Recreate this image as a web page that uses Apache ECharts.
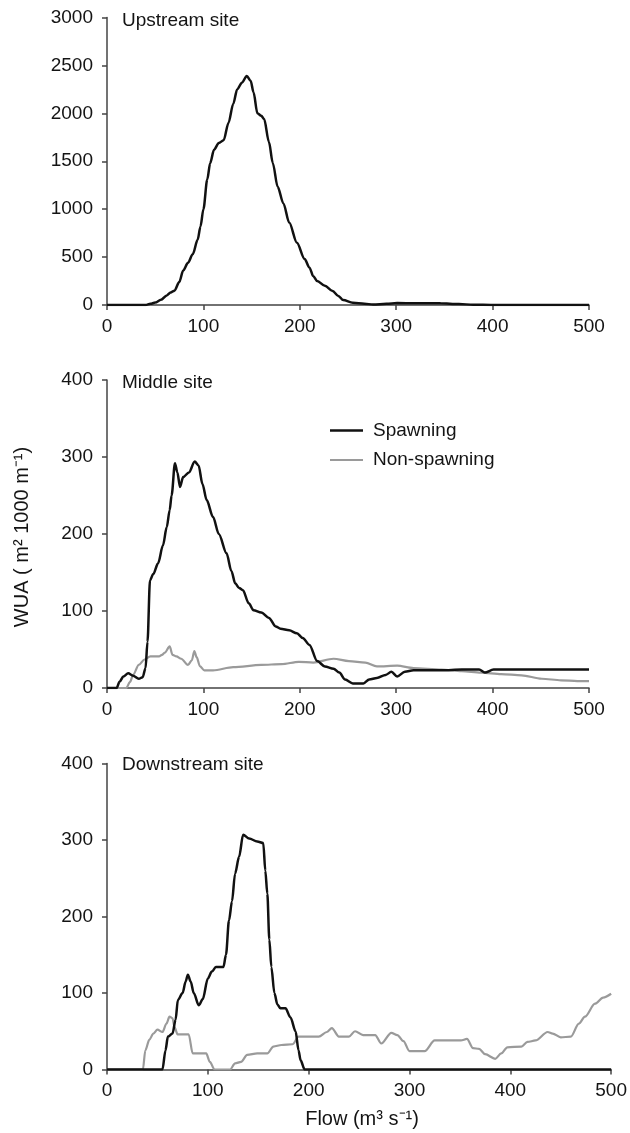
<!DOCTYPE html>
<html>
<head>
<meta charset="utf-8">
<script src="https://cdn.jsdelivr.net/npm/echarts@6/dist/echarts.min.js"></script>
<style>
  html, body { margin: 0; padding: 0; background: #fff; }
  #chart { width: 630px; height: 1133px; }
</style>
</head>
<body>
<div id="chart"></div>
<script>
// flow (m3/s) vs WUA
var upstreamSpawning = [
  [0,0],[40,0],[45,12],[50,25],[56,55],[62,100],[66,130],[70,150],[75,240],[79,360],
  [84,440],[89,530],[94,680],[97,820],[100,1000],[104,1310],[107,1480],[111,1620],
  [116,1690],[121,1720],[126,1900],[131,2100],[135,2250],[140,2320],[145,2390],
  [149,2340],[152,2220],[156,2000],[160,1975],[163,1940],[168,1700],[172,1480],
  [177,1235],[183,1060],[189,860],[197,650],[205,480],[210,390],[214,300],[218,250],
  [226,200],[234,146],[240,95],[245,52],[255,24],[267,14],[276,4],[290,12],[301,20],
  [320,18],[346,17],[365,10],[380,3],[400,0],[500,0]
];
var middleSpawning = [
  [0,0],[10,0],[13,8],[17,15],[22,19],[27,16],[33,12],[37,14],[40,26],[42,60],
  [44.6,140],[48,148],[53,162],[58,185],[62,209],[65,231],[67,250],[70.5,292],
  [73,280],[75.7,261],[79,274],[85,280],[91,294],[95,289],[99,265],[103.4,244],
  [110,222],[116,200],[124,175],[129,152],[133,136],[137,130],[141,127],[147,110],
  [152,101],[160,98],[168,91],[175,80],[180,77],[189,75],[197,71],[203,65],[210,56],
  [218,35],[226,28],[235,25],[241,20],[247,11],[255,6],[266,6],[272,11],[280,13],
  [289,17],[295,21],[301,15],[309,21],[318,23],[347,23],[368,24],[386,24],[392,20],
  [401,24],[450,24],[500,24]
];
var middleNonSpawning = [
  [0,0],[20,0],[24,8],[27,17],[33,30],[39,37],[45,41],[54,41],[57,43],[60,46],
  [65,54],[68,43],[72,41],[77,38],[84,30],[88,36],[90.6,48],[93,40],[96.5,28],
  [101,23],[110,23],[131,27],[160,30],[181,31],[199,34],[214,33],[235,38],[251,35],
  [268,33],[280,28],[301,29],[318,26],[347,24],[368,22],[388,20],[409,18],[430,16.5],
  [451,12],[471,10],[488,9],[500,9]
];
var downstreamSpawning = [
  [0,0],[55,0],[58,25],[60.4,43],[65,47],[68,65],[70.3,91],[75,100],[78,115],[80.2,124],
  [83,115],[86,100],[91,84],[95,92],[100,119],[104,128],[108,134],[115.5,134],[118,150],
  [121,195],[124,220],[127,256],[131,278],[135,307],[141,302],[149,298],[155,296],
  [157,260],[159,230],[161,170],[163,134],[166,100],[169,85],[172,80],[177,80],[182,68],
  [187,50],[190,25],[192,12],[196,0],[500,0]
];
var downstreamNonSpawning = [
  [0,0],[35.6,0],[38,25],[42,39],[46,47],[50,52],[55,49],[59,60],[62,69],[65,67],
  [67,55],[70,46],[78,46],[81,46],[85,21],[93,21],[98.4,21],[102,10],[106.6,0],
  [122,0],[127,8],[133,10],[139,19],[149,21],[159,21],[165,30],[173,32],[184,33],
  [190,43],[210,43],[218,49],[223,54],[230,43],[240,43],[246,50],[254,45],[266,45],
  [272,34],[282,48],[288,45],[294,37],[300,24],[315,24],[325,38],[351,38],[357,40],
  [363,28],[369,27],[375,20],[385,14],[391,21],[397,29],[411,30],[417,36],[425,38],
  [437,49],[442,47],[450,42],[460,43],[468,60],[474,69],[484,86],[492,94],[500,99]
];

var xTicks = [0, 100, 200, 300, 400, 500];
var panelNames = ['Upstream site', 'Middle site', 'Downstream site'];
var legendNames = ['Spawning', 'Non-spawning'];

var FONT = '"Liberation Sans", Arial, sans-serif';
var TXT = '#141414';
var AXIS = '#444';
var BLACK = '#111';
var GREY = '#9a9a9a';

var grids = [
  { left: 107, right: 41, top: 17.5, height: 287.5 },
  { left: 107, right: 41, top: 380, height: 308 },
  { left: 107, right: 17, top: 763.5, height: 306 }
];
var yMax = [3000, 400, 400];
var yStep = [500, 100, 100];

function plain(v) { return String(v); }

function makeX(i) {
  return {
    type: 'value', gridIndex: i, min: xTicks[0], max: xTicks[xTicks.length - 1], interval: 100,
    axisLine: { show: true, onZero: false, lineStyle: { color: AXIS, width: 1.5 } },
    axisTick: { show: true, inside: false, length: 5, lineStyle: { color: AXIS, width: 1.5 } },
    axisLabel: { fontSize: 19, color: TXT, fontFamily: FONT, margin: 12, formatter: plain },
    splitLine: { show: false }
  };
}
function makeY(i) {
  return {
    type: 'value', gridIndex: i, min: 0, max: yMax[i], interval: yStep[i],
    axisLine: { show: true, onZero: false, lineStyle: { color: AXIS, width: 1.5 } },
    axisTick: { show: true, inside: false, length: 5, lineStyle: { color: AXIS, width: 1.5 } },
    axisLabel: { fontSize: 19, color: TXT, fontFamily: FONT, margin: 14, formatter: plain },
    splitLine: { show: false }
  };
}
function makeLine(name, data, i, color, width) {
  return {
    name: name, type: 'line', xAxisIndex: i, yAxisIndex: i, data: data,
    symbol: 'none', smooth: 0.3, smoothMonotone: 'x',
    lineStyle: { color: color, width: width }, itemStyle: { color: color },
    z: color === BLACK ? 3 : 2
  };
}

var chart = echarts.init(document.getElementById('chart'), null, { renderer: 'canvas' });
var titleTops = [11, 373.5, 755.5];

var option = {
  animation: false,
  backgroundColor: '#fff',
  title: panelNames.map(function (t, i) {
    return { text: t, left: 122, top: titleTops[i], padding: 0,
      textStyle: { fontSize: 19, fontWeight: 'normal', color: TXT, fontFamily: FONT } };
  }),
  legend: [
    { data: [legendNames[0]], left: 330, top: 421, itemWidth: 33, itemHeight: 14, padding: 0,
      icon: 'path://M0,6L33,6L33,8.5L0,8.5Z', itemStyle: { color: BLACK },
      textStyle: { fontSize: 19, color: TXT, fontFamily: FONT, padding: [0, 0, 0, 5] } },
    { data: [legendNames[1]], left: 330, top: 450.5, itemWidth: 33, itemHeight: 14, padding: 0,
      icon: 'path://M0,6L33,6L33,8L0,8Z', itemStyle: { color: GREY },
      textStyle: { fontSize: 19, color: TXT, fontFamily: FONT, padding: [0, 0, 0, 5] } }
  ],
  grid: grids,
  xAxis: [makeX(0), makeX(1), makeX(2)],
  yAxis: [makeY(0), makeY(1), makeY(2)],
  series: [
    makeLine('Upstream', upstreamSpawning, 0, BLACK, 2.5),
    makeLine(legendNames[1], middleNonSpawning, 1, GREY, 2.2),
    makeLine(legendNames[0], middleSpawning, 1, BLACK, 2.5),
    makeLine(legendNames[1], downstreamNonSpawning, 2, GREY, 2.2),
    makeLine(legendNames[0], downstreamSpawning, 2, BLACK, 2.5)
  ],
  graphic: [
    { type: 'text', x: 22, y: 537, rotation: Math.PI / 2,
      style: { text: 'WUA ( m\u00b2 1000 m\u207b\u00b9)', fontSize: 20, fontFamily: FONT, fill: TXT,
        textAlign: 'center', textVerticalAlign: 'middle' } },
    { type: 'text', x: 362, y: 1119,
      style: { text: 'Flow (m\u00b3 s\u207b\u00b9)', fontSize: 20, fontFamily: FONT, fill: TXT,
        textAlign: 'center', textVerticalAlign: 'middle' } }
  ]
};

chart.setOption(option);
</script>
</body>
</html>
